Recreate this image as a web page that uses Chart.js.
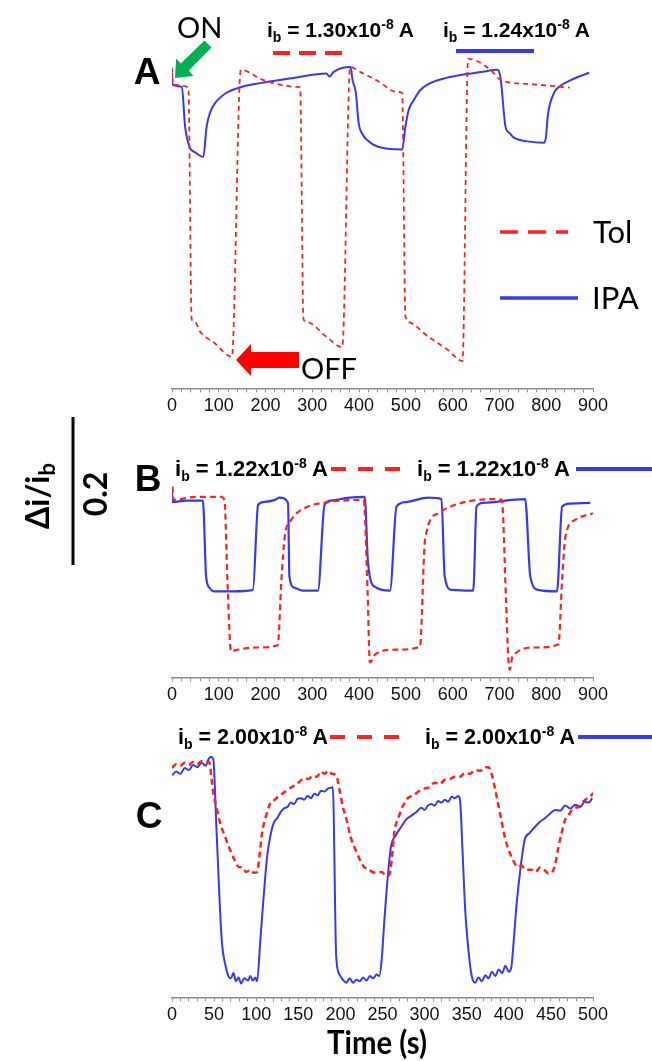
<!DOCTYPE html>
<html>
<head>
<meta charset="utf-8">
<script src="https://cdn.jsdelivr.net/npm/chart.js@4.4.0/dist/chart.umd.min.js"></script>
<style>
  body { margin: 0; background: #fff; width: 652px; height: 1061px; overflow: hidden; position: relative; }
  canvas { position: absolute; left: 0; }
  svg { position: absolute; left: 0; top: 0; }
  .arial { font-family: "Liberation Sans", Arial, sans-serif; font-weight: bold; }
  .cal { font-family: Lato, "Open Sans", sans-serif; }
</style>
</head>
<body>
<canvas id="chartA" width="652" height="420" style="top:0px"></canvas>
<canvas id="chartB" width="652" height="279" style="top:430px"></canvas>
<canvas id="chartC" width="652" height="329" style="top:700px"></canvas>

<svg width="652" height="1061">
  <!-- y scale bar -->
  <text class="cal" font-weight="bold" font-size="32" text-anchor="middle" transform="translate(49,496) rotate(-90)">Δi/i<tspan font-size="22" dy="6">b</tspan></text>
  <line x1="73" y1="417" x2="73" y2="565" stroke="#000" stroke-width="3"/>
  <text class="cal" font-weight="bold" font-size="32" text-anchor="middle" transform="translate(107,494) rotate(-90)">0.2</text>

  <!-- panel A -->
  <text class="arial" font-size="37" x="147" y="84" text-anchor="middle">A</text>
  <text class="cal" font-size="29" x="177" y="38">ON</text>
  <polygon points="211.5,47.6 188.8,70.6 193.5,75.9 175,78 176.1,58.6 180.8,63.4 204.5,40.4" fill="#00b050"/>
  <text class="arial" font-size="21" x="267" y="37">i<tspan font-size="14" dy="5">b</tspan><tspan dy="-5"> = 1.30x10</tspan><tspan font-size="14" dy="-8">-8</tspan><tspan dy="8"> A</tspan></text>
  <line x1="273" y1="53" x2="343" y2="53" stroke="#ff2020" stroke-width="4" stroke-dasharray="17 9"/>
  <text class="arial" font-size="21" x="443" y="37">i<tspan font-size="14" dy="5">b</tspan><tspan dy="-5"> = 1.24x10</tspan><tspan font-size="14" dy="-8">-8</tspan><tspan dy="8"> A</tspan></text>
  <line x1="456" y1="51" x2="534" y2="51" stroke="#3737f5" stroke-width="4"/>
  <line x1="500" y1="232" x2="568" y2="232" stroke="#ff2020" stroke-width="3.5" stroke-dasharray="18 10"/>
  <text class="cal" font-size="31" x="593" y="243">Tol</text>
  <line x1="500" y1="298" x2="578" y2="298" stroke="#3737f5" stroke-width="3.5"/>
  <text class="cal" font-size="31" x="592" y="309">IPA</text>
  <polygon points="299,352 251,352 251,344 236,360 251,376 251,368 299,368" fill="#ff0000"/>
  <text class="cal" font-size="29" x="301" y="379">OFF</text>

  <!-- panel B -->
  <text class="arial" font-size="37" x="148" y="491" text-anchor="middle">B</text>
  <text class="arial" font-size="22" x="175" y="476">i<tspan font-size="14" dy="5">b</tspan><tspan dy="-5"> = 1.22x10</tspan><tspan font-size="14" dy="-8">-8</tspan><tspan dy="8"> A</tspan></text>
  <line x1="331" y1="469" x2="402" y2="469" stroke="#ff2020" stroke-width="4" stroke-dasharray="15 12"/>
  <text class="arial" font-size="22" x="417" y="476">i<tspan font-size="14" dy="5">b</tspan><tspan dy="-5"> = 1.22x10</tspan><tspan font-size="14" dy="-8">-8</tspan><tspan dy="8"> A</tspan></text>
  <line x1="576" y1="469" x2="652" y2="469" stroke="#3737f5" stroke-width="4"/>

  <!-- panel C -->
  <text class="arial" font-size="37" x="149" y="828" text-anchor="middle">C</text>
  <text class="arial" font-size="21.5" x="178" y="744">i<tspan font-size="14" dy="5">b</tspan><tspan dy="-5"> = 2.00x10</tspan><tspan font-size="14" dy="-8">-8</tspan><tspan dy="8"> A</tspan></text>
  <line x1="330" y1="737" x2="400" y2="737" stroke="#ff2020" stroke-width="4" stroke-dasharray="15 12"/>
  <text class="arial" font-size="21.5" x="425" y="744">i<tspan font-size="14" dy="5">b</tspan><tspan dy="-5"> = 2.00x10</tspan><tspan font-size="14" dy="-8">-8</tspan><tspan dy="8"> A</tspan></text>
  <line x1="578" y1="737" x2="652" y2="737" stroke="#3737f5" stroke-width="4"/>

  <text class="cal" font-weight="bold" font-size="33" x="377" y="1054" text-anchor="middle" textLength="100" lengthAdjust="spacingAndGlyphs">Time (s)</text>
</svg>

<script>
// panel A: time (s) and Δi/ib
const tolA_t = [0, 2, 35, 42, 49, 60, 90, 128, 147, 196, 267, 274, 281, 289, 330, 364, 381, 403, 440, 481, 492, 499, 506, 546, 590, 621, 633, 681, 703, 760, 850];
const tolA_v = [0.003, -0.020, -0.024, -0.338, -0.342, -0.355, -0.370, -0.389, 0.000, -0.014, -0.023, -0.024, -0.338, -0.342, -0.362, -0.376, 0.004, -0.003, -0.015, -0.030, -0.031, -0.334, -0.342, -0.361, -0.380, -0.395, 0.015, 0.000, -0.014, -0.019, -0.024];
const ipaA_t = [0, 1, 21, 28, 38, 50, 67, 74, 82, 92, 117, 150, 189, 260, 330, 337, 345, 382, 386, 393, 399, 408, 417, 439, 492, 499, 506, 517, 530, 546, 580, 617, 660, 696, 700, 703, 713, 722, 731, 760, 796, 800, 803, 817, 830, 846, 870, 892];
const ipaA_v = [-0.004, -0.020, -0.023, -0.077, -0.105, -0.112, -0.118, -0.077, -0.057, -0.045, -0.031, -0.023, -0.018, -0.011, -0.005, -0.009, -0.003, 0.004, -0.014, -0.031, -0.072, -0.088, -0.095, -0.104, -0.108, -0.077, -0.054, -0.041, -0.028, -0.020, -0.012, -0.007, -0.003, 0.000, -0.004, -0.014, -0.077, -0.086, -0.092, -0.097, -0.099, -0.088, -0.064, -0.031, -0.022, -0.016, -0.009, -0.004];

// panel B
const tolB_t = [1, 3, 50, 105, 112, 119, 126, 140, 180, 226, 234, 241, 255, 284, 334, 405, 410, 418, 423, 435, 476, 530, 541, 569, 619, 691, 705, 714, 719, 722, 728, 776, 826, 834, 841, 862, 900];
const tolB_v = [0.018, 0.000, 0.004, 0.004, 0.000, -0.118, -0.205, -0.203, -0.200, -0.197, -0.108, -0.050, -0.027, -0.011, -0.003, 0.000, -0.001, -0.122, -0.220, -0.209, -0.203, -0.199, -0.054, -0.018, -0.004, 0.001, 0.000, -0.135, -0.216, -0.230, -0.212, -0.200, -0.196, -0.108, -0.050, -0.027, -0.018];
const ipaB_t = [0, 1, 30, 66, 73, 80, 91, 130, 173, 184, 195, 220, 230, 248, 251, 262, 280, 312, 326, 340, 380, 412, 419, 434, 466, 480, 500, 548, 576, 583, 598, 644, 651, 665, 755, 766, 783, 823, 834, 850, 894];
const ipaB_v = [0.014, -0.003, -0.001, -0.001, -0.104, -0.119, -0.124, -0.124, -0.122, -0.007, -0.003, 0.000, 0.003, -0.004, -0.104, -0.119, -0.123, -0.123, -0.007, -0.001, 0.003, 0.004, -0.085, -0.118, -0.123, -0.009, -0.003, 0.003, 0.001, -0.104, -0.122, -0.123, -0.009, -0.004, 0.001, -0.104, -0.122, -0.124, -0.009, -0.005, -0.004];

// panel C
const tolC_t = [0, 5, 10, 15, 20, 25, 30, 35, 40, 44, 49, 53, 57, 63, 69, 74, 79, 84, 88, 93, 97, 101, 104, 107, 112, 117, 122, 127, 132, 137, 142, 147, 152, 157, 162, 167, 172, 177, 181, 186, 190, 195, 199, 203, 208, 212, 218, 223, 228, 233, 238, 244, 249, 254, 258, 261, 264, 270, 275, 280, 287, 294, 300, 306, 312, 318, 324, 330, 336, 342, 348, 354, 360, 366, 372, 376, 380, 384, 390, 396, 403, 411, 415, 420, 427, 432, 437, 443, 447, 451, 455, 459, 463, 467, 471, 475, 479, 483, 487, 491, 496, 501];
const tolC_v = [-0.004, 0.001, -0.001, 0.003, 0.000, 0.004, 0.001, 0.005, 0.003, 0.004, -0.038, -0.058, -0.078, -0.097, -0.115, -0.128, -0.138, -0.139, -0.145, -0.142, -0.146, -0.145, -0.122, -0.092, -0.068, -0.051, -0.047, -0.042, -0.038, -0.034, -0.030, -0.027, -0.022, -0.018, -0.019, -0.015, -0.016, -0.009, -0.012, -0.008, -0.012, -0.014, -0.034, -0.057, -0.077, -0.097, -0.115, -0.128, -0.138, -0.141, -0.145, -0.146, -0.145, -0.150, -0.149, -0.128, -0.092, -0.068, -0.054, -0.045, -0.041, -0.035, -0.032, -0.030, -0.024, -0.026, -0.020, -0.019, -0.016, -0.016, -0.011, -0.012, -0.007, -0.008, -0.003, -0.003, -0.014, -0.034, -0.068, -0.101, -0.124, -0.138, -0.136, -0.142, -0.142, -0.145, -0.139, -0.143, -0.147, -0.146, -0.135, -0.111, -0.091, -0.074, -0.068, -0.061, -0.058, -0.057, -0.051, -0.047, -0.043, -0.038];
const ipaC_t = [0, 5, 10, 15, 20, 25, 30, 35, 40, 43, 46, 49, 53, 59, 64, 67, 70, 73, 76, 79, 82, 86, 90, 93, 96, 99, 101, 105, 109, 113, 117, 121, 125, 129, 133, 137, 141, 145, 149, 153, 157, 161, 165, 169, 173, 177, 181, 185, 189, 191, 195, 199, 203, 207, 211, 215, 219, 223, 227, 231, 235, 239, 243, 246, 249, 252, 256, 260, 266, 272, 278, 284, 290, 296, 300, 304, 308, 312, 316, 320, 324, 328, 332, 336, 340, 342, 345, 348, 352, 356, 360, 364, 368, 372, 376, 380, 384, 388, 392, 396, 400, 403, 406, 409, 414, 419, 425, 431, 437, 443, 449, 455, 461, 467, 473, 479, 485, 490, 495, 499];
const ipaC_v = [-0.014, -0.009, -0.012, -0.004, -0.007, 0.000, -0.003, 0.003, -0.001, 0.007, 0.011, 0.008, -0.092, -0.236, -0.274, -0.286, -0.289, -0.282, -0.293, -0.288, -0.296, -0.289, -0.292, -0.286, -0.292, -0.288, -0.293, -0.236, -0.176, -0.124, -0.095, -0.078, -0.072, -0.064, -0.059, -0.057, -0.051, -0.053, -0.046, -0.045, -0.047, -0.042, -0.045, -0.039, -0.041, -0.035, -0.036, -0.032, -0.031, -0.030, -0.259, -0.284, -0.291, -0.295, -0.289, -0.295, -0.291, -0.293, -0.288, -0.292, -0.286, -0.289, -0.284, -0.286, -0.264, -0.214, -0.155, -0.111, -0.095, -0.084, -0.074, -0.069, -0.064, -0.058, -0.061, -0.055, -0.053, -0.055, -0.049, -0.051, -0.047, -0.050, -0.043, -0.045, -0.042, -0.047, -0.115, -0.192, -0.250, -0.286, -0.295, -0.288, -0.293, -0.285, -0.289, -0.280, -0.286, -0.277, -0.282, -0.272, -0.280, -0.274, -0.236, -0.192, -0.139, -0.101, -0.092, -0.084, -0.077, -0.072, -0.066, -0.061, -0.062, -0.055, -0.059, -0.054, -0.057, -0.050, -0.051, -0.045];

const RED = "#ff2020";
const BLUE = "#3737f5";

function xy(ts, vs) {
  return ts.map((t, i) => ({ x: t, y: vs[i] }));
}

function panel(id, tol, ipa, opt) {
  new Chart(document.getElementById(id), {
    type: "line",
    data: {
      datasets: [
        { label: "Tol", data: tol, borderColor: RED, borderWidth: opt.redWidth, borderDash: opt.dash, pointRadius: 0, cubicInterpolationMode: "monotone" },
        { label: "IPA", data: ipa, borderColor: BLUE, borderWidth: opt.blueWidth, pointRadius: 0, cubicInterpolationMode: "monotone" }
      ]
    },
    options: {
      responsive: false,
      animation: false,
      devicePixelRatio: 1,
      layout: { padding: { left: 172, right: 59, top: 40, bottom: 0 } },
      plugins: { legend: { display: false }, tooltip: { enabled: false } },
      scales: {
        x: {
          type: "linear", min: 0, max: opt.xMax,
          border: { display: true, color: "#8c8c8c", width: 1.5 },
          grid: { display: true, drawOnChartArea: false, drawTicks: true, tickLength: 4, color: "#8c8c8c" },
          ticks: {
            stepSize: opt.step, autoSkip: false, maxRotation: 0, padding: 3, color: "#111",
            font: { family: "Liberation Sans", size: 18 },
            callback: v => (v % opt.every === 0 ? v : "")
          }
        },
        y: { display: false, min: opt.yMin, max: opt.yMax }
      }
    }
  });
}

panel("chartA", xy(tolA_t, tolA_v), xy(ipaA_t, ipaA_v), { xMax: 900, step: 20, every: 100, yMin: -0.432, yMax: 0.0405, dash: [5, 4], redWidth: 1.8, blueWidth: 2 });
panel("chartB", xy(tolB_t, tolB_v), xy(ipaB_t, ipaB_v), { xMax: 900, step: 20, every: 100, yMin: -0.2405, yMax: 0.0405, dash: [6, 4], redWidth: 2.2, blueWidth: 2.2 });
panel("chartC", xy(tolC_t, tolC_v), xy(ipaC_t, ipaC_v), { xMax: 500, step: 10, every: 50, yMin: -0.3149, yMax: 0.0338, dash: [6, 4], redWidth: 2.5, blueWidth: 2 });
</script>
</body>
</html>
